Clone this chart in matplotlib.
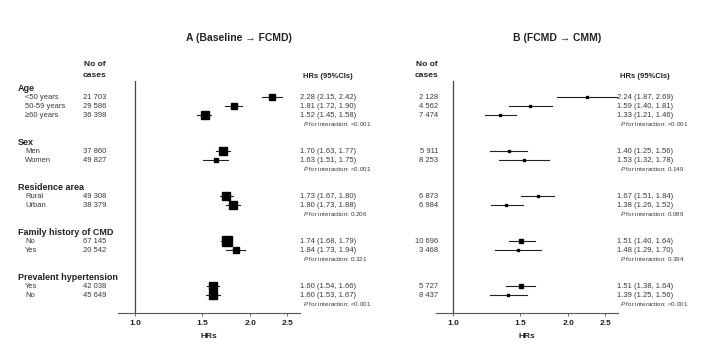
import numpy as np
import matplotlib
matplotlib.use("Agg")
import matplotlib.pyplot as plt
from matplotlib.transforms import blended_transform_factory

plt.rcParams['font.family'] = ['Liberation Sans', 'DejaVu Sans']
plt.rcParams['mathtext.fontset'] = 'custom'
plt.rcParams['mathtext.it'] = 'Liberation Sans:italic'
plt.rcParams['mathtext.rm'] = 'Liberation Sans'

# data
groups = ["Age", "Sex", "Residence area", "Family history of CMD", "Prevalent hypertension"]
sub_labels = [["<50 years", "50-59 years", "\u226560 years"],
              ["Men", "Women"],
              ["Rural", "Urban"],
              ["No", "Yes"],
              ["Yes", "No"]]

cases_a = ["21 703", "29 586", "36 398", "37 860", "49 827", "49 308", "38 379",
           "67 145", "20 542", "42 038", "45 649"]
hr_a = [2.28, 1.81, 1.52, 1.70, 1.63, 1.73, 1.80, 1.74, 1.84, 1.60, 1.60]
lo_a = [2.15, 1.72, 1.45, 1.63, 1.51, 1.67, 1.73, 1.68, 1.73, 1.54, 1.53]
hi_a = [2.42, 1.90, 1.58, 1.77, 1.75, 1.80, 1.88, 1.79, 1.94, 1.66, 1.67]
p_a = ["<0.001", "<0.001", "0.206", "0.321", "<0.001"]

cases_b = ["2 128", "4 562", "7 474", "5 911", "8 253", "6 873", "6 984",
           "10 696", "3 468", "5 727", "8 437"]
hr_b = [2.24, 1.59, 1.33, 1.40, 1.53, 1.67, 1.38, 1.51, 1.48, 1.51, 1.39]
lo_b = [1.87, 1.40, 1.21, 1.25, 1.32, 1.51, 1.26, 1.40, 1.29, 1.38, 1.25]
hi_b = [2.69, 1.81, 1.46, 1.56, 1.78, 1.84, 1.52, 1.64, 1.70, 1.64, 1.56]
p_b = ["<0.001", "0.149", "0.089", "0.394", "<0.001"]

ticks = [1.0, 1.5, 2.0, 2.5]

W, H = 712, 353
fig = plt.figure(figsize=(W / 100, H / 100), dpi=100)
fig.patch.set_facecolor("white")

TXT = "#3a3a3a"
BOLD = "#222222"


def fx(px):
    return px / W


def draw_panel(ax_left, title, title_x, cases, hr, lo, hi, pvals, case_x, hr_x,
               label_x=None, msize_k=0.5, msize_min=2.5):
    ax_right = ax_left + 182
    top, bottom = 81, 313
    ax = fig.add_axes([fx(ax_left), (H - bottom) / H, (ax_right - ax_left) / W,
                       (bottom - top) / H])
    ax.set_xscale("log")
    ax.set_xlim(0.903, 2.70)
    ax.set_ylim(25, -0.8)
    for s in ["left", "right", "top"]:
        ax.spines[s].set_visible(False)
    ax.spines["bottom"].set_color("#555555")
    ax.spines["bottom"].set_linewidth(0.8)
    ax.set_yticks([])
    ax.set_xticks(ticks)
    ax.set_xticklabels(["%.1f" % t for t in ticks], fontsize=6, fontweight="bold", color=BOLD)
    ax.xaxis.set_minor_locator(matplotlib.ticker.NullLocator())
    ax.tick_params(axis="x", length=2, width=0.6, color="#555555", pad=3)
    ax.set_xlabel("HRs", fontsize=6, fontweight="bold", color=BOLD, labelpad=4)
    ax.axvline(1.0, color="#444444", lw=0.9)
    ax.patch.set_alpha(0)

    tr = blended_transform_factory(fig.transFigure, ax.transData)

    ax.text(fx(title_x), -5.6, title, transform=tr, ha="center", va="center",
            fontsize=7.5, fontweight="bold", color=BOLD, clip_on=False)
    ax.text(fx(case_x), -2.6, "No of", transform=tr, ha="right", va="center",
            fontsize=6, fontweight="bold", color=BOLD)
    ax.text(fx(case_x), -1.4, "cases", transform=tr, ha="right", va="center",
            fontsize=6, fontweight="bold", color=BOLD)
    ax.text(fx(hr_x + 3), -1.3, "HRs (95%CIs)", transform=tr, ha="left", va="center",
            fontsize=5.5, fontweight="bold", color=BOLD)

    y = 0
    k = 0
    for g, subs in enumerate(sub_labels):
        if label_x is not None:
            ax.text(fx(label_x), y, groups[g], transform=tr, ha="left", va="center",
                    fontsize=6.5, fontweight="bold", color=BOLD)
        for s in subs:
            y += 1
            if label_x is not None:
                ax.text(fx(label_x + 7), y, s, transform=tr, ha="left", va="center",
                        fontsize=5.5, color=TXT)
            ax.text(fx(case_x), y, cases[k], transform=tr, ha="right", va="center",
                    fontsize=5.5, color=TXT)
            ax.text(fx(hr_x), y, "%.2f (%.2f, %.2f)" % (hr[k], lo[k], hi[k]),
                    transform=tr, ha="left", va="center", fontsize=5.5, color=TXT)
            ax.plot([lo[k], hi[k]], [y, y], color="#222222", lw=0.8, clip_on=False)
            ms = max(msize_min, msize_k / np.log(hi[k] / lo[k]))
            ax.plot(hr[k], y, marker="s", ms=ms, color="black", mec="black",
                    clip_on=False)
            k += 1
        y += 1
        ax.text(fx(hr_x + 3), y, r"$\it{P}$ for interaction: " + pvals[g],
                transform=tr, ha="left", va="center", fontsize=4.5, color=TXT)
        y += 2
    return ax


draw_panel(118, "A (Baseline \u2192 FCMD)", 239, cases_a, hr_a, lo_a, hi_a, p_a,
           case_x=106, hr_x=300, label_x=18, msize_k=0.45, msize_min=3)
draw_panel(436, "B (FCMD \u2192 CMM)", 557, cases_b, hr_b, lo_b, hi_b, p_b,
           case_x=438, hr_x=617, msize_k=0.38, msize_min=2)

fig.savefig("out.png", dpi=100, facecolor="white")
